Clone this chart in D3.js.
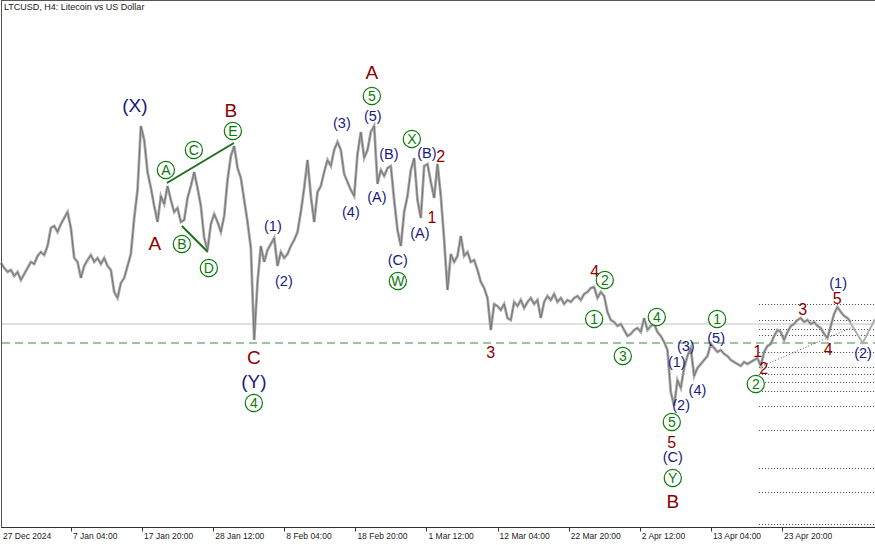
<!DOCTYPE html>
<html>
<head>
<meta charset="utf-8">
<script src="https://cdn.jsdelivr.net/npm/d3@7"></script>
<style>
  body { margin: 0; background: #fff; }
  svg { display: block; font-family: "Liberation Sans", Arial, sans-serif; }
</style>
</head>
<body>
<svg id="chart" width="875" height="545"></svg>
<script>
var W = 875, H = 545, bottom = 527;

// 12-hour samples starting 27 Dec 2024 12:00 UTC (LTCUSD)
var t0 = Date.UTC(2024, 11, 27, 12);
var prices = [
  99.25, 98.00, 97.00, 97.50, 96.00, 97.00, 95.00, 96.50, 98.00, 99.50,
  99.00, 101.00, 102.00, 101.25, 103.50, 108.00, 108.50, 107.00, 109.00, 110.50,
  112.00, 108.00, 100.50, 99.50, 95.50, 98.50, 100.00, 101.25, 99.50, 100.50,
  99.00, 100.50, 98.50, 97.50, 92.00, 90.50, 94.25, 95.50, 98.50, 101.50,
  110.50, 117.50, 133.50, 130.00, 122.00, 118.00, 113.50, 109.50, 116.00, 114.00,
  118.50, 115.00, 112.00, 113.00, 109.50, 110.00, 115.50, 118.50, 122.00, 118.00,
  113.50, 105.50, 102.50, 109.00, 111.50, 109.50, 107.00, 111.00, 120.00, 126.00,
  128.50, 123.00, 120.50, 115.00, 109.50, 103.00, 80.00, 94.50, 103.50, 99.50,
  102.50, 104.00, 105.50, 98.50, 102.00, 100.50, 101.50, 103.50, 105.00, 107.00,
  112.00, 118.00, 125.00, 116.00, 109.50, 117.00, 118.50, 122.00, 125.00, 123.50,
  127.50, 129.50, 127.50, 121.50, 119.50, 117.50, 116.00, 126.50, 132.00, 125.50,
  127.50, 132.00, 133.50, 119.00, 122.50, 121.00, 123.00, 123.50, 115.00, 107.50,
  103.50, 112.00, 116.00, 122.50, 125.50, 115.00, 110.50, 123.50, 124.00, 119.50,
  115.50, 124.00, 116.00, 105.00, 92.50, 101.50, 99.50, 101.00, 106.00, 101.00,
  102.00, 99.50, 100.00, 97.50, 94.50, 93.00, 90.50, 82.50, 89.00, 88.50,
  87.50, 89.00, 85.50, 85.00, 89.50, 88.50, 90.00, 88.00, 89.50, 90.50,
  89.00, 90.00, 85.50, 89.50, 91.00, 90.00, 91.50, 89.50, 90.50, 89.00,
  90.00, 89.50, 90.50, 91.00, 90.00, 91.50, 92.00, 93.00, 93.25, 90.50,
  92.00, 91.00, 87.00, 85.00, 84.50, 83.50, 84.00, 82.50, 81.00, 81.50,
  82.50, 83.00, 82.00, 85.50, 82.50, 83.50, 84.00, 82.00, 81.00, 79.50,
  77.50, 67.00, 63.50, 70.00, 68.00, 73.00, 76.00, 78.00, 71.00, 73.00,
  74.00, 75.00, 76.00, 79.00, 78.00, 77.00, 77.50, 76.50, 76.00, 75.00,
  74.50, 74.00, 73.50, 74.50, 74.00, 74.50, 75.00, 75.50, 73.50, 77.00,
  78.50, 79.00, 81.00, 82.50, 82.00, 80.00, 82.00, 83.50, 84.00, 85.00,
  85.50, 84.50, 85.00, 84.00, 84.50, 83.50, 83.00, 81.50, 80.50, 83.50,
  86.50, 88.25, 87.00, 86.00, 85.50, 84.50
];

var tickDates = ['2025-01-07T04:00Z', '2025-01-17T20:00Z', '2025-01-28T12:00Z', '2025-02-08T04:00Z',
  '2025-02-18T20:00Z', '2025-03-01T12:00Z', '2025-03-12T04:00Z', '2025-03-22T20:00Z',
  '2025-04-02T12:00Z', '2025-04-13T04:00Z', '2025-04-23T20:00Z'];
var tickLabels = ['7 Jan 04:00', '17 Jan 20:00', '28 Jan 12:00', '8 Feb 04:00', '18 Feb 20:00',
  '1 Mar 12:00', '12 Mar 04:00', '22 Mar 20:00', '2 Apr 12:00', '13 Apr 04:00', '23 Apr 20:00'];

var bidPrice = 84.0;       // solid grey line
var levelPrice = 79.25;    // green dashed line
var fibLevels = [89, 85, 82.75, 81.25, 77, 73.25, 71.5, 69.5, 67.25, 63.5, 57.5, 48, 42, 34];
var fibStart = 227.5;      // sample index where the levels begin

// projected (2) leg and 2-4 trend line: [sample index, price]
var forecast = [[254.7, 84.5], [258.6, 79.25], [262.3, 85.25]];
var trendLine = [[228.2, 73.4], [255.2, 83.1]];
// triangle lines in the wave (B)
var triangleLines = [
  [[49.8, 119.25], [69.9, 129.25]],
  [[54.3, 108.5], [62.1, 102.0]]
];

// wave labels: [text, sample index, price, kind]
var waves = [
  ['(X)', 40.2, 138.75, 'bignavy'],
  ['A', 46.2, 104.25, 'bigred'],
  ['A', 49.5, 122.5, 'circ'], ['C', 57.9, 127.5, 'circ'], ['E', 69.6, 132.25, 'circ'],
  ['B', 54.3, 104, 'circ'], ['D', 62.4, 98, 'circ'],
  ['B', 69.0, 137.5, 'bigred'],
  ['C', 75.9, 75.75, 'bigred'], ['(Y)', 75.9, 69.75, 'bignavy'], ['4', 75.9, 64.25, 'circ'],
  ['(1)', 81.6, 108.5, 'navy'], ['(2)', 84.9, 94.75, 'navy'],
  ['A', 111.3, 147, 'bigred'], ['5', 111.3, 141, 'circ'], ['(5)', 111.6, 136, 'navy'],
  ['(3)', 102.3, 134.25, 'navy'], ['(4)', 105, 112, 'navy'],
  ['(A)', 112.8, 115.75, 'navy'], ['(B)', 116.4, 126.5, 'navy'],
  ['X', 123.3, 130.25, 'circ'], ['(B)', 127.8, 126.75, 'navy'],
  ['2', 132.0, 126, 'red'], ['1', 129.3, 110.75, 'red'], ['(A)', 125.7, 106.75, 'navy'],
  ['(C)', 119.1, 100, 'navy'], ['W', 119.1, 94.75, 'circ'],
  ['3', 147.0, 77, 'red'],
  ['4', 178.2, 97.25, 'red'], ['2', 181.2, 95, 'circ'],
  ['1', 178.0, 85.25, 'circ'], ['3', 186.6, 76, 'circ'], ['4', 196.8, 85.75, 'circ'],
  ['(1)', 202.8, 74.5, 'navy'], ['(3)', 205.5, 78.5, 'navy'],
  ['(2)', 204.1, 63.9, 'navy'], ['(4)', 209.0, 67.6, 'navy'],
  ['5', 201.3, 59.5, 'circ'], ['5', 201.3, 54.5, 'red'], ['(C)', 201.6, 50.75, 'navy'],
  ['Y', 201.6, 45.5, 'circ'], ['B', 201.6, 39.75, 'bigred'],
  ['1', 214.9, 85.25, 'circ'], ['(5)', 214.6, 80.5, 'navy'],
  ['1', 227.1, 77.25, 'red'], ['2', 228.9, 73, 'red'], ['2', 226.5, 69, 'circ'],
  ['3', 240.6, 87.75, 'red'], ['4', 248.2, 77.75, 'red'],
  ['(1)', 251.2, 94.25, 'navy'], ['5', 250.9, 90.5, 'red'], ['(2)', 258.7, 76.75, 'navy']
];

function at(i) { return new Date(t0 + i * 12 * 3600e3); }

var x = d3.scaleUtc()
  .domain([at(0), new Date(Date.UTC(2025, 4, 7, 16))])
  .range([0.9, 875.2]);
var y = d3.scaleLinear().domain([165 - bottom / 4, 165]).range([bottom, 0]);

var svg = d3.select('#chart');
var navy = '#1a1a80', red = '#8b0000', green = '#0a7a0a';

// horizontal lines
svg.append('line')
  .attr('x1', 2).attr('x2', W).attr('y1', y(bidPrice)).attr('y2', y(bidPrice))
  .style('stroke', '#c0c0c0').style('stroke-width', 1);
svg.append('line')
  .attr('x1', 2).attr('x2', W).attr('y1', y(levelPrice)).attr('y2', y(levelPrice))
  .style('stroke', '#3c8c3c').style('stroke-width', 1).style('stroke-dasharray', '8,5');

svg.selectAll('line.fib')
  .data(fibLevels)
  .enter()
  .append('line')
  .attr('class', 'fib')
  .attr('x1', x(at(fibStart))).attr('x2', W)
  .attr('y1', function(d) { return Math.round(y(d)) + 0.5; })
  .attr('y2', function(d) { return Math.round(y(d)) + 0.5; })
  .style('stroke', '#444').style('stroke-width', 1).style('stroke-dasharray', '1,2');

var line = d3.line()
  .x(function(d) { return x(at(d[0])); })
  .y(function(d) { return y(d[1]); });

svg.append('path')
  .attr('d', line(trendLine))
  .style('fill', 'none').style('stroke', '#555').style('stroke-width', 1).style('stroke-dasharray', '1,2');

// price: a light band with a darker core, like the H4 bars
var pricePath = line(prices.map(function(p, i) { return [i, p]; }));
svg.append('path')
  .attr('d', pricePath)
  .style('fill', 'none').style('stroke', '#ababab').style('stroke-width', 2.8);
svg.append('path')
  .attr('d', pricePath)
  .style('fill', 'none').style('stroke', '#747474').style('stroke-width', 1);

svg.append('path')
  .attr('d', line(forecast))
  .style('fill', 'none').style('stroke', '#b0b0b0').style('stroke-width', 2);

svg.selectAll('path.tri')
  .data(triangleLines)
  .enter()
  .append('path')
  .attr('class', 'tri')
  .attr('d', line)
  .style('fill', 'none').style('stroke', '#1d6e1d').style('stroke-width', 2);

// wave labels
var styles = {
  bignavy: { size: 19, color: navy },
  bigred: { size: 19, color: red },
  navy: { size: 14.5, color: navy },
  red: { size: 16, color: red },
  circ: { size: 14, color: green }
};

var g = svg.selectAll('g.wave')
  .data(waves)
  .enter()
  .append('g')
  .attr('class', 'wave')
  .attr('transform', function(d) { return 'translate(' + x(at(d[1])) + ',' + y(d[2]) + ')'; });

g.filter(function(d) { return d[3] === 'circ'; })
  .append('circle')
  .attr('r', 8.6)
  .style('fill', '#fff')
  .style('stroke', green)
  .style('stroke-width', 1.2);

g.append('text')
  .attr('text-anchor', 'middle')
  .attr('dy', '0.36em')
  .style('font-size', function(d) { return styles[d[3]].size + 'px'; })
  .style('fill', function(d) { return styles[d[3]].color; })
  .text(function(d) { return d[0]; });

// frame and time axis
svg.append('line').attr('x1', 1.5).attr('x2', 1.5).attr('y1', 0).attr('y2', bottom)
  .style('stroke', '#555');
svg.append('line').attr('x1', 1).attr('x2', W).attr('y1', 0.5).attr('y2', 0.5)
  .style('stroke', '#555');
svg.append('line').attr('x1', 1).attr('x2', W).attr('y1', bottom + 0.5).attr('y2', bottom + 0.5)
  .style('stroke', '#333');

var ticks = tickDates.map(function(s) { return new Date(s); });
var axis = svg.append('g').attr('transform', 'translate(0,' + (bottom + 0.5) + ')');
axis.selectAll('line')
  .data(ticks)
  .enter()
  .append('line')
  .attr('x1', function(d) { return Math.round(x(d)) - 0.5; })
  .attr('x2', function(d) { return Math.round(x(d)) - 0.5; })
  .attr('y1', 0).attr('y2', 4)
  .style('stroke', '#333');
axis.selectAll('text')
  .data(['27 Dec 2024'].concat(tickLabels))
  .enter()
  .append('text')
  .attr('x', function(d, i) { return i === 0 ? 3 : x(ticks[i - 1]) + 1; })
  .attr('y', 11)
  .style('font-size', '8.5px')
  .style('fill', '#222')
  .text(function(d) { return d; });

svg.append('text')
  .attr('x', 4).attr('y', 10)
  .style('font-size', '9px')
  .style('fill', '#222')
  .text('LTCUSD, H4:  Litecoin vs US Dollar');
</script>
</body>
</html>
